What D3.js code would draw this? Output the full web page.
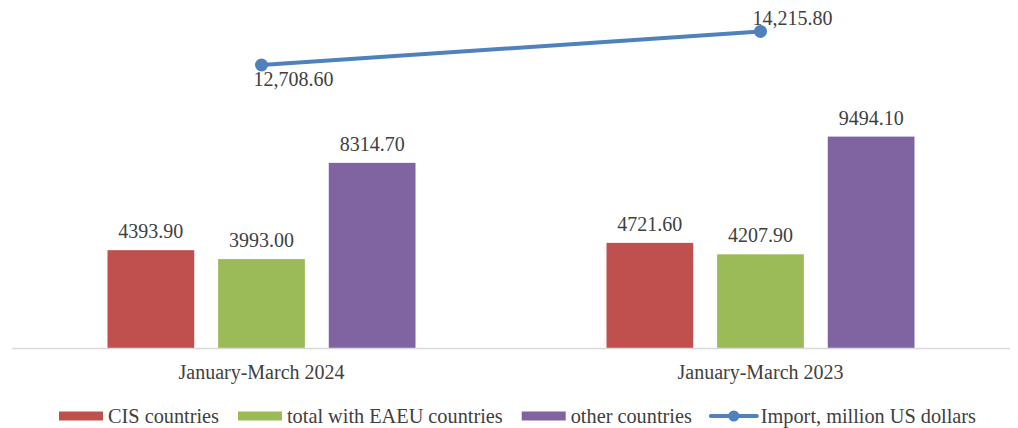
<!DOCTYPE html>
<html>
<head>
<meta charset="utf-8">
<script src="https://cdn.jsdelivr.net/npm/d3@7"></script>
<style>
  html, body { margin: 0; padding: 0; background: #fff; }
  svg { display: block; font-family: "Liberation Serif", "Times New Roman", serif; }
</style>
</head>
<body>
<div id="chart"></div>
<script>
// periods on the x axis
const periods = ['January-March 2024', 'January-March 2023'];

// bar series
const cisCountries = [4393.90, 4721.60];
const eaeuCountries = [3993.00, 4207.90];
const otherCountries = [8314.70, 9494.10];

// line series
const importTotal = [12708.60, 14215.80];

const barSeries = [
    { name: 'CIS countries', values: cisCountries, color: '#C0504D' },
    { name: 'total with EAEU countries', values: eaeuCountries, color: '#9BBB59' },
    { name: 'other countries', values: otherCountries, color: '#8064A2' }
];
const lineName = 'Import, million US dollars';
const lineColor = '#4F81BD';

const width = 1018, height = 428;
const textColor = '#404040';

const svg = d3.select('#chart')
    .append('svg')
    .attr('width', width)
    .attr('height', height);

const x = d3.scaleBand(periods, [12, 1010]);
const xInner = d3.scaleBand(barSeries.map(s => s.name), [0, 308]).paddingInner(0.216);
const y = d3.scaleLinear([0, 15000], [348, 14]);

// Bars
barSeries.forEach(s => {
    const g = svg.append('g');
    const offset = (x.bandwidth() - 308) / 2;
    g.selectAll('rect')
        .data(s.values)
        .join('rect')
        .attr('x', (d, i) => x(periods[i]) + offset + xInner(s.name))
        .attr('y', d => y(d))
        .attr('width', xInner.bandwidth())
        .attr('height', d => y(0) - y(d))
        .attr('fill', s.color);

    g.selectAll('text')
        .data(s.values)
        .join('text')
        .attr('x', (d, i) => x(periods[i]) + offset + xInner(s.name) + xInner.bandwidth() / 2)
        .attr('y', d => y(d) - 12)
        .attr('text-anchor', 'middle')
        .attr('font-size', 20)
        .attr('fill', textColor)
        .text(d => d3.format('.2f')(d));
});

// Axis line
svg.append('line')
    .attr('x1', 12).attr('x2', 1010)
    .attr('y1', y(0) + 0.5).attr('y2', y(0) + 0.5)
    .attr('stroke', '#D9D9D9')
    .attr('stroke-width', 1.5);

// Category labels
svg.append('g')
    .selectAll('text')
    .data(periods)
    .join('text')
    .attr('x', d => x(d) + x.bandwidth() / 2)
    .attr('y', 379)
    .attr('text-anchor', 'middle')
    .attr('font-size', 20)
    .attr('fill', textColor)
    .text(d => d);

// Line
const cx = i => x(periods[i]) + x.bandwidth() / 2;
svg.append('path')
    .datum(importTotal)
    .attr('d', d3.line((d, i) => cx(i), d => y(d)))
    .attr('fill', 'none')
    .attr('stroke', lineColor)
    .attr('stroke-width', 4)
    .attr('stroke-linecap', 'round');

svg.append('g')
    .selectAll('circle')
    .data(importTotal)
    .join('circle')
    .attr('cx', (d, i) => cx(i))
    .attr('cy', d => y(d))
    .attr('r', 6.5)
    .attr('fill', lineColor);

// first label sits below the point, second one above
const labelDy = [21, -6];
svg.append('g')
    .selectAll('text')
    .data(importTotal)
    .join('text')
    .attr('x', (d, i) => cx(i) - 8)
    .attr('y', (d, i) => y(d) + labelDy[i])
    .attr('font-size', 20)
    .attr('fill', textColor)
    .text(d => d3.format(',.2f')(d));

// Legend
const legend = svg.append('g').attr('transform', 'translate(0, 416)');
let lx = 59;
barSeries.forEach(s => {
    legend.append('rect')
        .attr('x', lx).attr('y', -4.5)
        .attr('width', 44).attr('height', 9)
        .attr('fill', s.color);
    const t = legend.append('text')
        .attr('x', lx + 49).attr('y', 7)
        .attr('font-size', 20.3)
        .attr('fill', textColor)
        .text(s.name);
    lx += 49 + t.node().getComputedTextLength() + 19;
});
legend.append('line')
    .attr('x1', lx).attr('x2', lx + 46)
    .attr('y1', 0).attr('y2', 0)
    .attr('stroke', lineColor)
    .attr('stroke-width', 4)
    .attr('stroke-linecap', 'round');
legend.append('circle')
    .attr('cx', lx + 23).attr('cy', 0)
    .attr('r', 5.5)
    .attr('fill', lineColor);
legend.append('text')
    .attr('x', lx + 50).attr('y', 7)
    .attr('font-size', 20.3)
    .attr('fill', textColor)
    .text(lineName);
</script>
</body>
</html>
